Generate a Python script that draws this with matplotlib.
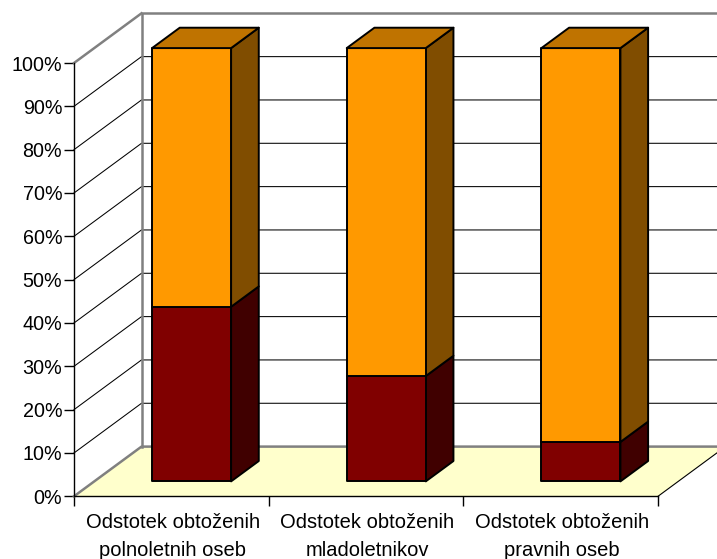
import matplotlib
matplotlib.use("Agg")
import matplotlib.pyplot as plt
from matplotlib.patches import Polygon
from matplotlib.transforms import ScaledTranslation

plt.rcParams['font.family'] = ['Liberation Sans', 'DejaVu Sans']

# === Daten ===
categories = ['Odstotek obtoženih\npolnoletnih oseb',
              'Odstotek obtoženih\nmladoletnikov',
              'Odstotek obtoženih\npravnih oseb']
lower_values = [40.3, 24.3, 9.1]
upper_values = [59.7, 75.7, 90.9]
y_ticks = [0, 10, 20, 30, 40, 50, 60, 70, 80, 90, 100]

# === Farben ===
lower_front, lower_side = '#800000', '#400000'
upper_front, upper_side, upper_top = '#FF9900', '#804D00', '#BF7300'
floor_color = '#FFFFCC'
wall_color = '#808080'

W, H = 717, 559
fig = plt.figure(figsize=(W / 100, H / 100), dpi=100)
left, right, bottom, top = 74, 658, 496.3, 63
ax = fig.add_axes([left / W, 1 - bottom / H, (right - left) / W, (bottom - top) / H])
ax.set_xlim(0, 3)
ax.set_ylim(0, 100)

# Tiefe der Pseudo-3D-Darstellung in Datenkoordinaten
depth_x = 67.5 / ((right - left) / 3)
depth_y = 49.7 / ((bottom - top) / 100)


def proj(x, y, d):
    return x + d * depth_x, y + d * depth_y


def poly(points, **kw):
    p = Polygon([proj(*pt) for pt in points], closed=True, clip_on=False, **kw)
    ax.add_patch(p)


def line(points, **kw):
    ax.plot(*zip(*[proj(*pt) for pt in points]), clip_on=False, zorder=2, **kw)


# Boden
poly([(0, 0, 0), (3, 0, 0), (3, 0, 1), (0, 0, 1)], facecolor=floor_color, edgecolor='none', zorder=1)
line([(3, 0, 0), (3, 0, 1)], color='black', lw=0.8)
line([(0, 0, 0), (0, 0, 1), (3, 0, 1)], color=wall_color, lw=1.8)

# Gitterlinien
for t in y_ticks[1:-1]:
    line([(0, t, 0), (0, t, 1), (3, t, 1)], color='black', lw=0.75)

# Rückwand
line([(0, 0, 1), (0, 100, 1), (3, 100, 1)], color=wall_color, lw=1.8)
line([(0, 100, 0), (0, 100, 1)], color=wall_color, lw=1.8)

# Balken
bar_w = 0.406
d0, d1 = 0.30, 0.71
edge = dict(edgecolor='black', linewidth=1.4, joinstyle='round', zorder=5)
for i in range(len(categories)):
    x0 = i + 0.5 - bar_w / 2
    x1 = x0 + bar_w
    base = 0
    for val, front, side in ((lower_values[i], lower_front, lower_side),
                             (upper_values[i], upper_front, upper_side)):
        y0, y1 = base, base + val
        poly([(x1, y0, d0), (x1, y0, d1), (x1, y1, d1), (x1, y1, d0)], facecolor=side, **edge)
        poly([(x0, y0, d0), (x1, y0, d0), (x1, y1, d0), (x0, y1, d0)], facecolor=front, **edge)
        base = y1
    poly([(x0, base, d0), (x1, base, d0), (x1, base, d1), (x0, base, d1)], facecolor=upper_top, **edge)

# Achsen
for s in ('top', 'right'):
    ax.spines[s].set_visible(False)
ax.patch.set_visible(False)
for s in ('left', 'bottom'):
    ax.spines[s].set_linewidth(1.0)
    ax.spines[s].set_zorder(6)
ax.set_yticks(y_ticks)
ax.set_yticklabels([f'{t}%' for t in y_ticks], fontsize=14.2)
ax.tick_params(axis='y', length=7, width=1.0, pad=1.5)
ax.set_xticks([0, 1, 2, 3])
ax.set_xticklabels([])
ax.tick_params(axis='x', length=7, width=1.0, color='black')
ax.set_xticks([0.5, 1.5, 2.5], minor=True)
ax.set_xticklabels(categories, minor=True, fontsize=14.5, linespacing=1.6)
ax.tick_params(axis='x', which='minor', length=0, pad=12)

# Kategorienbeschriftung leicht nach rechts
shift = ScaledTranslation(1.5 / 100, 0, fig.dpi_scale_trans)
for lab in ax.get_xticklabels(minor=True):
    lab.set_transform(lab.get_transform() + shift)

fig.savefig('out.png', dpi=100)
